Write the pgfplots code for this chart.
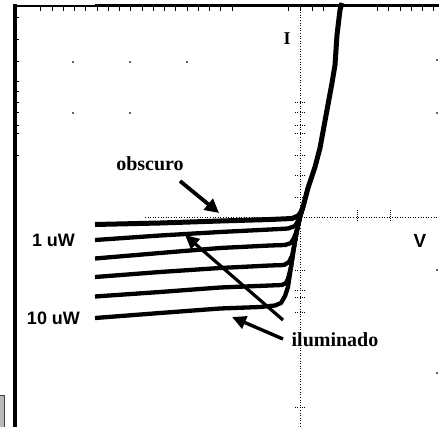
\documentclass[border=0pt]{standalone}
\usepackage{fontspec}
\setmainfont{Liberation Serif}
\newfontfamily\arial{Liberation Sans}
\usepackage{pgfplots}
\pgfplotsset{compat=1.18}
\usetikzlibrary{arrows.meta}
\begin{document}
\begin{tikzpicture}
\begin{axis}[
  scale only axis, width=439bp, height=427bp,
  xmin=0, xmax=439, ymin=0, ymax=427, y dir=reverse,
  hide axis, clip=false,
]
% frame
\draw[line width=3.5bp] (axis cs:14.75,4) -- (axis cs:14.75,430);
\draw[line width=2.2bp] (axis cs:13,6) -- (axis cs:96,6);
\draw[line width=3bp] (axis cs:95,5.5) -- (axis cs:445,5.5);
% small gray box bottom-left
\draw[fill=gray!55, draw=black!75, line width=1bp] (axis cs:-4,395.5) rectangle (axis cs:4,432);
% top ticks
\pgfplotsinvokeforeach{40,52,63,74,85,97,108,119,130,142,153,164,175,187,198,209,220,232,288,300,312,323,377,388,400,411,422,433}{
  \draw[line width=0.9bp] (axis cs:#1,6) -- (axis cs:#1,11);
}
% left ticks
\pgfplotsinvokeforeach{18,40,62,82,92,103,113,125,133,155}{
  \draw[line width=1bp] (axis cs:16,#1) -- (axis cs:18.5,#1);
}
% dotted axes
\draw[line width=0.8bp, dash pattern=on 0.8bp off 1.8bp] (axis cs:300,7) -- (axis cs:300,427);
\draw[line width=0.8bp, dash pattern=on 0.8bp off 1.8bp] (axis cs:145,217) -- (axis cs:439,217);
\pgfplotsinvokeforeach{102,112,125,133,155,175,197,270,290,297,312,407}{
  \draw[line width=0.7bp, dash pattern=on 0.8bp off 1.5bp] (axis cs:295,#1) -- (axis cs:305,#1);
}
\pgfplotsinvokeforeach{357,390}{
  \draw[line width=0.8bp, dash pattern=on 1bp off 1bp] (axis cs:#1,210) -- (axis cs:#1,222);
}
% grid dots
\addplot[only marks, mark=*, mark size=0.6bp, black] coordinates {
  (73,62) (130,62) (187,62) (73,113) (130,113)
  (437,60) (437,113) (437,270) (437,373)
};
% dark curve
\addplot[line width=5bp, line join=round] coordinates {
  (95,224.5) (160,223) (220,221) (270,219.5) (292,218.5) (298,216) (301,212)
  (303,207) (308,188) (315,167) (320,148) (327,110) (332,83) (335,65)
  (337,35) (340,10) (342,3)
};
% illuminated curves
\addplot[line width=4.3bp, line join=round] coordinates {
  (95,240) (160,235.5) (220,232) (270,229.5) (288,228.5) (295,226) (298,221) (300,216) (303,207)
};
\addplot[line width=4.3bp, line join=round] coordinates {
  (95,258.5) (160,253) (220,248) (270,245.5) (285,245) (291,243) (294,238) (297,230) (300,217) (303,207)
};
\addplot[line width=4.3bp, line join=round] coordinates {
  (95,277) (160,272) (220,268) (270,265.5) (284,265) (289,262) (292,256) (294,247) (297,230) (300,217) (303,207)
};
\addplot[line width=4.3bp, line join=round] coordinates {
  (95,296.5) (160,292) (220,287.5) (270,285.5) (282,285) (286,283) (288,279) (291,267) (294,247) (297,230) (300,217) (303,207)
};
\addplot[line width=4.3bp, line join=round] coordinates {
  (95,318) (160,313) (220,308.5) (260,307) (275,305.5) (281,303) (285,296) (288,287) (291,267) (294,247) (297,230) (300,217) (303,207)
};
% arrows
\draw[line width=3.8bp, -{Triangle[length=14bp,width=14bp]}] (axis cs:180,181) -- (axis cs:219,213);
\draw[line width=3.2bp, -{Triangle[length=14bp,width=13bp]}] (axis cs:283,320) -- (axis cs:185,235);
\draw[line width=3.4bp, -{Triangle[length=14bp,width=13bp]}] (axis cs:283,339) -- (axis cs:232,317);
% labels
\node[font=\fontsize{20bp}{22bp}\selectfont\bfseries] at (axis cs:150,163.5) {obscuro};
\node[font=\fontsize{20bp}{22bp}\selectfont\bfseries] at (axis cs:335,340) {iluminado};
\node[font=\fontsize{18bp}{20bp}\selectfont\bfseries] at (axis cs:287,39) {I};
\node[font=\arial\fontsize{18bp}{20bp}\selectfont\bfseries] at (axis cs:53.5,240) {1 uW};
\node[font=\arial\fontsize{18bp}{20bp}\selectfont\bfseries] at (axis cs:53.5,318.5) {10 uW};
\node[font=\arial\fontsize{19bp}{21bp}\selectfont\bfseries] at (axis cs:420,240.5) {V};
\end{axis}
\pgfresetboundingbox
\path[use as bounding box] (current axis.south west) rectangle (current axis.north east);
\end{tikzpicture}
\end{document}
